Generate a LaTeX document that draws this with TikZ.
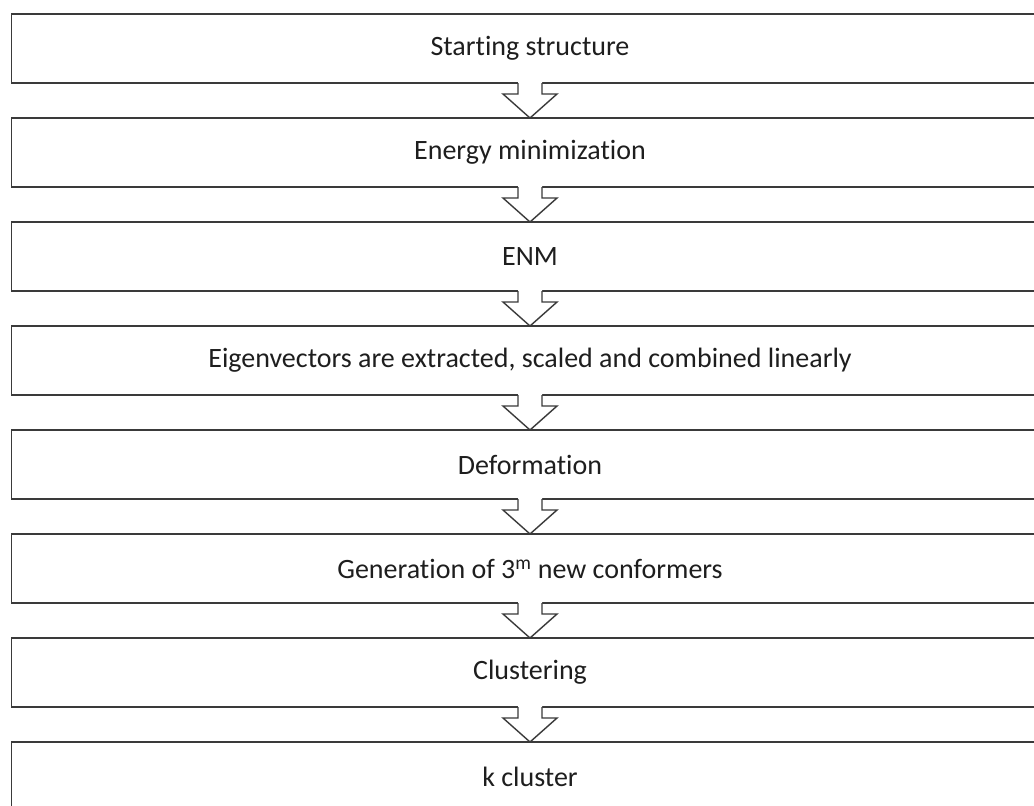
\documentclass[tikz,border=0pt]{standalone}
\usepackage{fontspec}
\setmainfont{Carlito}[Ligatures={NoCommon}]
\usetikzlibrary{calc}
\definecolor{linec}{HTML}{3A3A3A}
\definecolor{txtc}{HTML}{1E1E1E}
\tikzset{
  box/.style={draw=linec, line width=1.4pt, minimum width=1037pt, minimum height=69pt, inner sep=0pt, outer sep=0pt,
    text=txtc, font=\fontsize{28}{32}\selectfont},
  arrowfill/.style={fill=white},
  arrowline/.style={draw=linec, line width=1.4pt, line join=miter}
}
\begin{document}
\begin{tikzpicture}[x=1pt,y=1pt]
\clip (0,0) rectangle (1034,-806);
\fill[white] (0,0) rectangle (1034,-806);
\node[box] (b1) at (530,-48.5) {Starting structure};
\node[box] (b2) at (530,-152.5) {Energy minimization};
\node[box] (b3) at (530,-256.5) {ENM};
\node[box] (b4) at (530,-360.5) {Eigenvectors are extracted, scaled and combined linearly};
\node[box] (b5) at (530,-464.5) {Deformation};
\node[box] (b6) at (530,-568.5) {Generation of 3\textsuperscript{m} new conformers};
\node[box] (b7) at (530,-672.5) {Clustering};
\node[box] (b8) at (530,-776.5) {k cluster};
\foreach \a/\b in {1/2,2/3,3/4,4/5,5/6,6/7,7/8}{
  \path[arrowfill] ($(b\a.south)+(-12,1.5)$) -- ($(b\a.south)+(-12,-11)$) -- ($(b\a.south)+(-27,-11)$) -- (b\b.north) -- ($(b\a.south)+(27,-11)$) -- ($(b\a.south)+(12,-11)$) -- ($(b\a.south)+(12,1.5)$) -- cycle;
  \draw[arrowline] ($(b\a.south)+(-12,0)$) -- ($(b\a.south)+(-12,-11)$) -- ($(b\a.south)+(-27,-11)$) -- (b\b.north) -- ($(b\a.south)+(27,-11)$) -- ($(b\a.south)+(12,-11)$) -- ($(b\a.south)+(12,0)$);
}
\end{tikzpicture}
\end{document}
